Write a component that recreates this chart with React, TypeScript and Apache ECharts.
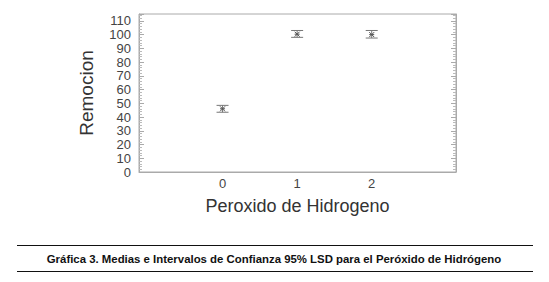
import React, { useEffect, useRef } from "react";
import * as echarts from "echarts";

const categories = [0, 1, 2];
const means = [46, 100.3, 100];
const lower = [43.5, 98, 97.5];
const upper = [48.5, 103, 103];
const yTicks = [0, 10, 20, 30, 40, 50, 60, 70, 80, 90, 100, 110];
const xTitle = "Peroxido de Hidrogeno";
const yTitle = "Remocion";
const caption = "Gráfica 3. Medias e Intervalos de Confianza 95% LSD para el Peróxido de Hidrógeno";

export default function App() {
  const ref = useRef<HTMLDivElement>(null);
  useEffect(() => {
    const chart = echarts.init(ref.current!, null, { renderer: "svg" });
    const barData = categories.map((c, i) => [c, lower[i], upper[i], means[i]]);
    const yCommon = {
      type: "value",
      min: 0,
      max: 115,
      interval: 10,
      splitLine: { show: false },
      axisLine: { show: true, onZero: false, lineStyle: { color: "#aaa" } },
      axisTick: { show: true, inside: true, length: 5, lineStyle: { color: "#aaa" } },
      minorTick: { show: true, splitNumber: 5, length: 3, lineStyle: { color: "#bbb" } },
    };
    chart.setOption({
      animation: false,
      backgroundColor: "#fff",
      grid: { left: 139, right: 93, top: 14, bottom: 110, show: true, borderColor: "#aaa", borderWidth: 1 },
      xAxis: {
        type: "value",
        min: -1.12,
        max: 3.13,
        minInterval: 1,
        splitLine: { show: false },
        axisLine: { show: true, onZero: false, lineStyle: { color: "#aaa" } },
        axisTick: { show: false },
        axisLabel: {
          color: "#444",
          fontFamily: "Liberation Sans, Arial",
          fontSize: 13,
          margin: 5,
          showMinLabel: false,
          showMaxLabel: false,
          formatter: (v: number) => (categories.includes(v) ? String(v) : ""),
        },
        name: xTitle,
        nameLocation: "middle",
        nameGap: 25,
        nameTextStyle: { color: "#333", fontFamily: "Liberation Sans, Arial", fontSize: 18 },
      },
      yAxis: [
        {
          ...yCommon,
          axisLabel: {
            color: "#444",
            fontFamily: "Liberation Sans, Arial",
            fontSize: 13,
            lineHeight: 12,
            margin: 8,
            showMinLabel: true,
            showMaxLabel: false,
            formatter: (v: number) => (yTicks.includes(v) ? String(v) : ""),
          },
          name: yTitle,
          nameLocation: "middle",
          nameGap: 43,
          nameRotate: 90,
          nameTextStyle: { color: "#333", fontFamily: "Liberation Sans, Arial", fontSize: 19 },
        },
        {
          ...yCommon,
          position: "right",
          axisLabel: { show: false },
        },
      ],
      series: [
        {
          type: "custom",
          data: barData,
          encode: { x: 0, y: [1, 2, 3] },
          renderItem: (params: any, api: any) => {
            const x = api.value(0);
            const lo = api.coord([x, api.value(1)]);
            const hi = api.coord([x, api.value(2)]);
            const m = api.coord([x, api.value(3)]);
            const cw = 6;
            const s = { stroke: "#777", lineWidth: 1 };
            const ms = { stroke: "#555", lineWidth: 1 };
            const a = 2.5;
            return {
              type: "group",
              children: [
                { type: "line", shape: { x1: lo[0], y1: lo[1], x2: hi[0], y2: hi[1] }, style: s },
                { type: "line", shape: { x1: lo[0] - cw, y1: lo[1], x2: lo[0] + cw, y2: lo[1] }, style: s },
                { type: "line", shape: { x1: hi[0] - cw, y1: hi[1], x2: hi[0] + cw, y2: hi[1] }, style: s },
                { type: "line", shape: { x1: m[0] - a, y1: m[1] - a, x2: m[0] + a, y2: m[1] + a }, style: ms },
                { type: "line", shape: { x1: m[0] - a, y1: m[1] + a, x2: m[0] + a, y2: m[1] - a }, style: ms },
                { type: "line", shape: { x1: m[0] - a, y1: m[1], x2: m[0] + a, y2: m[1] }, style: ms },
              ],
            };
          },
        },
      ],
      graphic: [
        { type: "line", shape: { x1: 17, y1: 245.5, x2: 533, y2: 245.5 }, style: { stroke: "#111", lineWidth: 1 } },
        { type: "line", shape: { x1: 17, y1: 271.5, x2: 533, y2: 271.5 }, style: { stroke: "#111", lineWidth: 1 } },
        {
          type: "text",
          x: 274,
          y: 259,
          style: {
            text: caption,
            fill: "#111",
            font: "bold 11.4px 'Liberation Sans', Arial",
            textAlign: "center",
            textVerticalAlign: "middle",
          },
        },
      ],
    });
    return () => chart.dispose();
  }, []);
  return <div ref={ref} style={{ width: 549, height: 282, position: "absolute", left: 0, top: 0 }} />;
}
